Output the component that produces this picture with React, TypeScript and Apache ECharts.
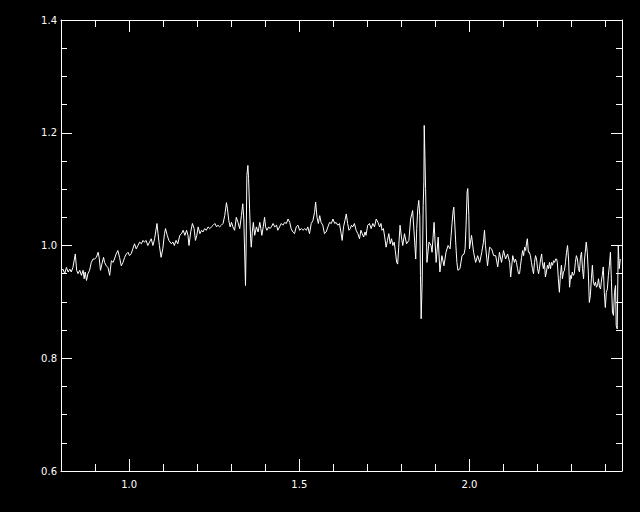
import React, { useEffect, useRef } from "react";
import * as echarts from "echarts";

// [wavelength, relative flux]
const spectrum: [number, number][] = [
  [0.801, 0.955], [0.806, 0.958], [0.811, 0.950], [0.816, 0.961], [0.821, 0.953], [0.826, 0.958], [0.830, 0.953], [0.835, 0.961],
  [0.842, 0.985], [0.846, 0.956], [0.850, 0.950], [0.855, 0.956], [0.860, 0.947], [0.865, 0.956], [0.868, 0.941], [0.871, 0.953],
  [0.875, 0.938], [0.879, 0.950], [0.884, 0.956], [0.889, 0.970], [0.894, 0.976], [0.899, 0.976], [0.904, 0.979], [0.909, 0.988],
  [0.912, 0.979], [0.916, 0.956], [0.920, 0.967], [0.925, 0.979], [0.928, 0.970], [0.933, 0.964], [0.938, 0.961], [0.943, 0.947],
  [0.948, 0.973], [0.953, 0.970], [0.957, 0.976], [0.962, 0.985], [0.967, 0.991], [0.972, 0.979], [0.977, 0.964], [0.982, 0.970],
  [0.987, 0.979], [0.992, 0.985], [0.997, 0.988], [1.001, 0.982], [1.006, 0.985], [1.011, 0.994], [1.016, 1.003], [1.021, 0.994],
  [1.026, 1.000], [1.031, 1.006], [1.036, 1.003], [1.041, 1.009], [1.045, 1.006], [1.050, 1.009], [1.055, 1.000], [1.060, 1.006],
  [1.065, 1.012], [1.070, 1.000], [1.075, 1.012], [1.082, 1.039], [1.085, 1.021], [1.089, 1.000], [1.094, 0.979], [1.099, 0.994],
  [1.104, 1.021], [1.107, 1.030], [1.112, 1.018], [1.117, 1.009], [1.124, 1.003], [1.129, 1.006], [1.133, 1.000], [1.138, 1.009],
  [1.143, 1.003],
  [1.149, 1.018], [1.154, 1.021], [1.159, 1.027], [1.164, 1.018], [1.169, 1.027], [1.173, 1.018], [1.176, 1.000], [1.181, 1.024],
  [1.186, 1.039], [1.191, 1.030], [1.195, 1.009], [1.199, 1.018], [1.203, 1.033], [1.208, 1.021], [1.213, 1.027], [1.217, 1.024],
  [1.222, 1.030], [1.227, 1.027], [1.232, 1.033], [1.237, 1.030], [1.242, 1.033], [1.247, 1.036], [1.252, 1.039], [1.257, 1.033],
  [1.261, 1.036], [1.266, 1.033], [1.271, 1.036], [1.276, 1.039], [1.281, 1.053], [1.286, 1.076], [1.289, 1.065], [1.293, 1.044],
  [1.297, 1.033], [1.301, 1.041], [1.305, 1.033], [1.310, 1.027], [1.315, 1.050], [1.320, 1.041], [1.325, 1.030], [1.330, 1.053],
  [1.334, 1.074], [1.337, 1.047], [1.340, 0.976], [1.342, 0.929], [1.344, 1.006], [1.346, 1.124], [1.349, 1.142], [1.351, 1.119],
  [1.354, 1.065], [1.357, 1.012], [1.359, 0.997], [1.362, 1.024], [1.365, 1.041], [1.369, 1.018], [1.374, 1.033], [1.379, 1.024],
  [1.384, 1.041], [1.387, 1.030], [1.390, 1.018], [1.394, 1.033], [1.398, 1.050], [1.401, 1.033], [1.405, 1.027], [1.410, 1.033],
  [1.414, 1.030], [1.418, 1.033], [1.423, 1.039], [1.428, 1.033], [1.433, 1.036], [1.437, 1.027], [1.442, 1.033], [1.447, 1.039],
  [1.452, 1.036], [1.457, 1.041], [1.462, 1.039], [1.467, 1.047], [1.472, 1.041], [1.476, 1.030], [1.481, 1.024], [1.486, 1.021],
  [1.491, 1.033], [1.496, 1.036], [1.501, 1.027], [1.506, 1.030], [1.511, 1.027], [1.516, 1.030], [1.521, 1.027], [1.525, 1.033],
  [1.530, 1.021], [1.535, 1.039], [1.540, 1.044], [1.545, 1.059], [1.548, 1.077], [1.552, 1.050], [1.556, 1.039], [1.560, 1.053],
  [1.564, 1.041], [1.569, 1.036], [1.574, 1.021], [1.579, 1.024], [1.584, 1.033], [1.589, 1.041], [1.594, 1.039], [1.599, 1.047],
  [1.604, 1.039], [1.608, 1.041], [1.613, 1.036], [1.618, 1.039], [1.623, 1.021], [1.626, 1.009], [1.630, 1.033], [1.634, 1.044],
  [1.638, 1.056], [1.642, 1.039], [1.646, 1.027], [1.650, 1.030], [1.653, 1.036], [1.657, 1.033], [1.662, 1.039], [1.667, 1.027],
  [1.672, 1.021], [1.677, 1.012], [1.681, 1.027], [1.685, 1.021], [1.689, 1.015], [1.693, 1.024], [1.696, 1.018], [1.701, 1.036],
  [1.706, 1.039], [1.711, 1.030], [1.716, 1.039], [1.721, 1.033], [1.726, 1.047], [1.731, 1.041], [1.736, 1.033], [1.740, 1.039],
  [1.743, 1.027], [1.747, 1.030], [1.751, 1.015], [1.755, 0.997], [1.759, 1.009], [1.763, 1.021], [1.767, 1.003], [1.771, 1.012],
  [1.775, 1.000], [1.779, 1.006], [1.782, 0.991], [1.786, 0.970], [1.789, 0.967], [1.792, 0.997], [1.796, 1.036], [1.800, 1.015],
  [1.804, 1.000],
  [1.809, 1.021], [1.815, 1.003], [1.822, 1.009], [1.827, 1.047], [1.833, 1.062], [1.839, 1.006], [1.842, 0.976], [1.845, 1.030],
  [1.848, 1.065], [1.851, 1.080], [1.854, 1.053], [1.856, 0.947], [1.858, 0.870], [1.861, 0.935], [1.864, 1.071], [1.866, 1.113],
  [1.867, 1.213], [1.869, 1.160], [1.871, 1.101], [1.873, 1.036], [1.875, 0.970], [1.881, 1.006], [1.887, 1.000], [1.890, 0.988],
  [1.896, 1.041], [1.902, 0.970], [1.908, 1.015], [1.913, 0.953], [1.919, 0.982], [1.925, 0.964], [1.931, 0.988], [1.937, 1.000],
  [1.943, 0.994], [1.946, 1.018], [1.949, 1.041], [1.952, 1.062], [1.954, 1.068], [1.957, 1.036], [1.960, 1.000], [1.963, 0.970],
  [1.966, 0.956], [1.972, 0.959], [1.978, 0.982], [1.984, 0.985], [1.987, 0.994], [1.990, 1.036], [1.993, 1.095], [1.995, 1.101],
  [1.998, 1.053], [2.000, 0.994], [2.006, 1.018], [2.012, 0.988], [2.018, 0.970], [2.024, 0.982], [2.030, 0.970], [2.036, 0.988],
  [2.041, 1.006], [2.044, 1.027], [2.047, 1.000], [2.053, 0.964], [2.059, 0.997], [2.065, 0.994], [2.071, 0.982], [2.077, 0.982],
  [2.083, 0.962], [2.088, 0.988], [2.094, 0.970], [2.100, 0.991], [2.106, 0.976], [2.112, 0.985], [2.118, 0.970], [2.121, 0.944],
  [2.127, 0.982],
  [2.132, 0.970], [2.135, 0.976], [2.138, 0.970], [2.141, 0.959], [2.144, 0.950], [2.147, 0.950], [2.150, 0.965], [2.153, 0.979],
  [2.156, 0.991], [2.159, 0.982], [2.162, 0.997], [2.165, 0.991], [2.168, 1.006], [2.170, 1.012], [2.173, 0.988], [2.176, 0.988],
  [2.179, 0.982], [2.182, 0.970], [2.185, 0.959], [2.188, 0.950], [2.191, 0.970], [2.194, 0.982], [2.197, 0.976], [2.200, 0.959],
  [2.203, 0.950], [2.206, 0.962], [2.209, 0.976], [2.212, 0.985], [2.214, 0.970], [2.217, 0.959], [2.220, 0.970], [2.223, 0.944],
  [2.226, 0.953], [2.229, 0.965], [2.232, 0.959], [2.235, 0.970], [2.238, 0.959], [2.241, 0.970], [2.244, 0.965], [2.247, 0.973],
  [2.250, 0.970], [2.253, 0.976], [2.256, 0.976], [2.258, 0.970], [2.261, 0.941], [2.264, 0.917], [2.267, 0.947], [2.270, 0.965],
  [2.273, 0.941], [2.276, 0.953], [2.279, 0.956], [2.282, 0.970], [2.285, 0.988], [2.288, 1.000], [2.291, 0.976], [2.294, 0.926],
  [2.297, 0.947], [2.299, 0.941], [2.302, 0.953], [2.305, 0.947], [2.308, 0.950], [2.311, 0.970], [2.314, 0.982], [2.317, 0.976],
  [2.320, 0.959], [2.323, 0.953], [2.326, 0.979], [2.329, 0.988], [2.332, 0.959], [2.335, 0.941], [2.338, 0.976], [2.341, 0.994],
  [2.343, 1.006], [2.346, 0.988], [2.349, 0.953], [2.352, 0.899], [2.355, 0.911], [2.358, 0.941], [2.361, 0.965], [2.364, 0.935],
  [2.367, 0.929], [2.370, 0.935], [2.373, 0.926], [2.376, 0.929], [2.379, 0.941], [2.382, 0.926], [2.385, 0.923], [2.387, 0.935],
  [2.390, 0.947], [2.393, 0.962], [2.396, 0.917], [2.399, 0.890], [2.402, 0.917], [2.405, 0.923], [2.408, 0.947], [2.411, 0.965],
  [2.414, 0.988], [2.417, 0.935], [2.420, 0.882], [2.423, 0.876], [2.426, 0.917], [2.429, 0.929], [2.431, 0.858], [2.434, 0.852],
  [2.437, 1.000], [2.440, 0.959], [2.443, 0.976],
];

const xRange = [0.8, 2.448];
const yRange = [0.6, 1.4];
const xMajorTicks = [1.0, 1.5, 2.0];
const xMinorTicks = [0.9, 1.1, 1.2, 1.3, 1.4, 1.6, 1.7, 1.8, 1.9, 2.1, 2.2, 2.3, 2.4];
const yTickInterval = 0.2;

export default function App() {
  const ref = useRef<HTMLDivElement>(null);

  useEffect(() => {
    const chart = echarts.init(ref.current as HTMLDivElement, null, { renderer: "svg" });
    const white = "#ffffff";
    const line = { color: white, width: 1 };
    const labelFont = { color: white, fontSize: 10, fontFamily: "DejaVu Sans" };

    const xAxis = (position: string, showLine: boolean, ticks: number[], len: number, labels: boolean) => ({
      type: "value",
      position,
      min: xRange[0],
      max: xRange[1],
      axisLine: { show: showLine, onZero: false, lineStyle: line },
      axisTick: { show: true, inside: true, length: len, customValues: ticks, lineStyle: line },
      axisLabel: labels
        ? { show: true, customValues: xMajorTicks, margin: 8, formatter: (v: number) => v.toFixed(1), ...labelFont }
        : { show: false },
      splitLine: { show: false },
    });

    const yAxis = (position: string, labels: boolean) => ({
      type: "value",
      position,
      min: yRange[0],
      max: yRange[1],
      interval: yTickInterval,
      axisLine: { show: true, onZero: false, lineStyle: line },
      axisTick: { show: true, inside: true, length: 11, lineStyle: line },
      minorTick: { show: true, splitNumber: 4, length: 6, lineStyle: line },
      axisLabel: labels
        ? { show: true, margin: 4, formatter: (v: number) => v.toFixed(1), ...labelFont }
        : { show: false },
      splitLine: { show: false },
      minorSplitLine: { show: false },
    });

    chart.setOption({
      animation: false,
      backgroundColor: "#000000",
      grid: { left: 61, right: 18, top: 20, bottom: 41, containLabel: false, outerBoundsMode: "none" },
      xAxis: [
        xAxis("bottom", true, xMajorTicks, 12, true),
        xAxis("bottom", false, xMinorTicks, 7, false),
        xAxis("top", true, xMajorTicks, 12, false),
        xAxis("top", false, xMinorTicks, 7, false),
      ],
      yAxis: [yAxis("left", true), yAxis("right", false)],
      series: [
        {
          type: "line",
          xAxisIndex: 0,
          yAxisIndex: 0,
          data: spectrum,
          showSymbol: false,
          symbol: "none",
          lineStyle: { color: white, width: 1 },
          clip: true,
        },
      ],
    } as any);

    return () => chart.dispose();
  }, []);

  return (
    <div
      ref={ref}
      style={{ position: "fixed", left: 0, top: 0, width: 640, height: 512, background: "#000" }}
    />
  );
}
